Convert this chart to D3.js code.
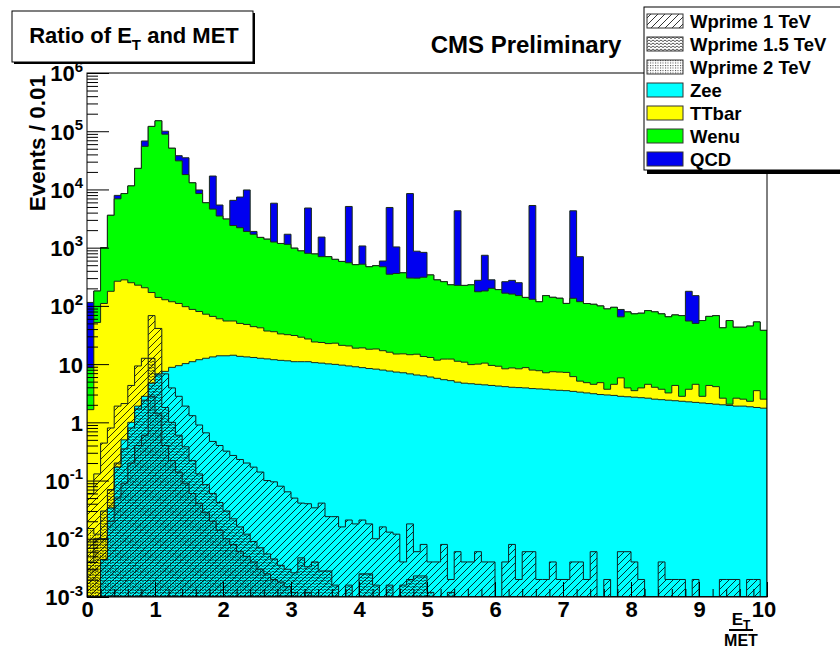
<!DOCTYPE html>
<html><head><meta charset="utf-8">
<script src="https://cdn.jsdelivr.net/npm/d3@7"></script>
<style>
html,body{margin:0;padding:0;background:#fff;}
svg{display:block;font-family:"Liberation Sans",Arial,Helvetica,sans-serif;font-weight:bold;}
</style></head><body>
<svg id="c" width="840" height="652"></svg>
<script>
// ---------------- data ----------------
const nBins = 100, xLo = 0, xHi = 10;
const zee = [0, 0, 0.0044, 0.034, 0.17, 0.5, 1.0, 1.9, 2.8, 4.7,
  6.8, 7.5, 8.8, 9.4, 10.2, 11, 11.9, 12.6, 13.3, 13.9,
  13.9, 14.2, 13.6, 13.3, 13.0, 12.6, 12.3, 11.9, 11.6, 11.4,
  11.0, 11.0, 11.0, 10.6, 10.4, 10.1, 9.9, 9.6, 9.3, 9.0,
  8.7, 8.4, 8.2, 7.9, 7.6, 7.3, 7.1, 6.8, 6.5, 6.3,
  6.0, 5.7, 5.4, 5.2, 4.9, 4.7, 4.6, 4.5, 4.4, 4.3,
  4.2, 4.1, 4.0, 3.95, 3.9, 3.8, 3.75, 3.7, 3.6, 3.55,
  3.5, 3.4, 3.3, 3.2, 3.1, 3.0, 2.95, 2.9, 2.8, 2.75,
  2.7, 2.65, 2.6, 2.5, 2.45, 2.4, 2.35, 2.3, 2.25, 2.2,
  2.15, 2.1, 2.05, 2.0, 1.95, 1.9, 1.9, 1.85, 1.8, 1.75];
const ttbar = [1.65, 52, 110, 178, 265, 279.5, 249, 225, 202, 165,
  133, 120, 109, 100.6, 86.8, 76, 68.1, 59.4, 52.7, 46.1,
  41.1, 40.8, 36.4, 34.7, 31, 29.4, 24.7, 24.1, 21.4, 20.6,
  20, 18, 16, 13.4, 13.1, 12.4, 13.0, 11.4, 11.2, 9.8,
  10.3, 9.6, 10.0, 9.1, 8.4, 7.6, 7.9, 7.7, 8.3, 7.2,
  7.0, 6.0, 6.8, 7.0, 6.3, 6.1, 5.2, 5.5, 6.0, 5.2,
  5.0, 4.2, 4.6, 4.35, 4.8, 4.1, 3.95, 3.4, 3.8, 3.75,
  3.7, 2.7, 1.8, 1.6, 1.4, 1.8, 0.75, 1.6, 3.0, 1.15,
  0.8, 1.25, 1.9, 1.5, 1.25, 0.8, 1.95, 0.5, 1.45, 2.3,
  0.65, 2.2, 2.05, 0.6, 0.1, 0.7, 0.6, 0.45, 1.7, 0.75];
const wenu = [7, 128, 890, 3420, 6640, 8220, 11250, 22770, 54800, 120800,
  150900, 88900, 50900, 30900, 17900, 12910, 8420, 5830, 4530, 3440,
  3045, 2345, 2150, 1852, 1656, 1458, 1363, 1214, 1147, 1108,
  949, 851, 773, 756, 677, 678, 607, 559, 530, 491,
  501, 452, 472, 453, 334, 345, 355, 286, 285, 297,
  327, 268, 248, 218, 214, 214, 220, 165, 170, 191,
  181, 157, 151, 142, 131, 122, 110, 143, 133, 128,
  103, 129, 113, 105, 102, 95, 85, 90, 59, 75,
  69.5, 71, 78.5, 75, 69.3, 61.8, 65.7, 65.2, 51.3, 45.5,
  53.2, 61.7, 63.9, 39.4, 54, 40.4, 40.5, 42.7, 49.5, 35.5];
const qcd = [106, 0, 0, 0, 1000, 0, 0, 0, 13000, 0,
  0, 11000, 0, 7000, 17000, 0, 1300, 0, 12400, 1900,
  0, 4100, 5200, 7900, 200, 0, 0, 4550, 0, 560,
  0, 0, 4000, 0, 820, 0, 0, 0, 4550, 0,
  550, 0, 0, 120, 4550, 670, 0, 8200, 570, 520,
  0, 0, 0, 0, 4075, 0, 0, 100, 560, 80,
  0, 95, 115, 100, 0, 5170, 0, 0, 0, 0,
  0, 4165, 582, 0, 0, 0, 0, 0, 22, 0,
  0, 0, 0, 0, 0, 0, 0, 0, 123, 100,
  0, 0, 0, 0, 0, 0, 0, 0, 0, 0];
const wp1 = [0.06, 0.13, 0.44, 0.8, 1.9, 2.1, 4.3, 9.3, 12.6, 68,
  41, 6.8, 3.9, 2.8, 1.9, 1.3, 0.9, 0.66, 0.47, 0.4,
  0.32, 0.27, 0.23, 0.2, 0.17, 0.14, 0.1, 0.095, 0.08, 0.064,
  0.05, 0.041, 0.04, 0.034, 0.041, 0.024, 0.024, 0.016, 0.021, 0.018,
  0.021, 0.018, 0.01, 0.016, 0.013, 0.012, 0.004, 0.018, 0.006, 0.008,
  0.004, 0.004, 0.008, 0.002, 0.006, 0.004, 0.004, 0.006, 0.004, 0.004,
  0, 0.004, 0.008, 0.002, 0.006, 0.006, 0.002, 0.002, 0.004, 0.002,
  0.002, 0.004, 0.004, 0.002, 0.006, 0, 0.002, 0, 0.006, 0.006,
  0.004, 0.002, 0, 0, 0.004, 0.002, 0.002, 0.002, 0, 0.002,
  0, 0, 0, 0.002, 0.002, 0.002, 0, 0.002, 0.002, 0];
const wp15 = [0.004, 0.01, 0.03, 0.07, 0.2, 0.35, 0.8, 1.7, 2.4, 12.6,
  6.5, 1.8, 1.0, 0.6, 0.38, 0.22, 0.13, 0.085, 0.06, 0.042,
  0.03, 0.022, 0.016, 0.012, 0.009, 0.007, 0.0055, 0.0045, 0.0035, 0.003,
  0.0026, 0.0047, 0.0033, 0.004, 0.0028, 0.0028, 0.0016, 0, 0.0016, 0,
  0.0025, 0.0025, 0.0016, 0, 0.0016, 0, 0.0016, 0.002, 0.0023, 0.0023,
  0.0012, 0, 0, 0.0012, 0, 0, 0, 0, 0, 0,
  0, 0, 0, 0, 0, 0, 0, 0, 0, 0,
  0, 0, 0, 0, 0, 0, 0, 0, 0, 0,
  0, 0, 0, 0, 0, 0, 0, 0, 0, 0,
  0, 0, 0, 0, 0, 0, 0, 0, 0, 0];
const wp2 = [0.015, 0.012, 0.01, 0.02, 0.05, 0.09, 0.2, 0.4, 0.6, 2.8,
  1.4, 0.4, 0.22, 0.14, 0.09, 0.06, 0.04, 0.028, 0.02, 0.014,
  0.01, 0.008, 0.006, 0.005, 0.004, 0.003, 0.0025, 0.002, 0.0018, 0.0015,
  0.0012, 0, 0.0012, 0, 0, 0, 0, 0, 0, 0,
  0, 0, 0, 0, 0, 0, 0, 0, 0, 0,
  0, 0, 0, 0, 0, 0, 0, 0, 0, 0,
  0, 0, 0, 0, 0, 0, 0, 0, 0, 0,
  0, 0, 0, 0, 0, 0, 0, 0, 0, 0,
  0, 0, 0, 0, 0, 0, 0, 0, 0, 0,
  0, 0, 0, 0, 0, 0, 0, 0, 0, 0];
const stackKeys = ["zee", "ttbar", "wenu", "qcd"];
const stackColors = {zee: "#00ffff", ttbar: "#ffff00", wenu: "#00ff00", qcd: "#0000f0"};
const xTickValues = [0, 1, 2, 3, 4, 5, 6, 7, 8, 9, 10];
const xTickLabels = ["0", "1", "2", "3", "4", "5", "6", "7", "8", "9", ""];
const yDecades = [1e-3, 1e-2, 1e-1, 1, 10, 1e2, 1e3, 1e4, 1e5, 1e6];
const yTickLabels = [["10","-3"],["10","-2"],["10","-1"],["1",""],["10",""],["10","2"],["10","3"],["10","4"],["10","5"],["10","6"]];
const legendLabels = ["Wprime 1 TeV", "Wprime 1.5 TeV", "Wprime 2 TeV", "Zee", "TTbar", "Wenu", "QCD"];

// ---------------- layout ----------------
const svg = d3.select("#c");
const L = 87, R = 767, T = 73, B = 597;
const x = d3.scaleLinear().domain([xLo, xHi]).range([L, R]);
const y = d3.scaleLog().domain([1e-3, 1e6]).range([B, T]).clamp(true);
const yv = v => y(Math.max(v, 1e-6));
const bw = (xHi - xLo) / nBins;

// patterns
const defs = svg.append("defs");
const p1 = defs.append("pattern").attr("id", "hatch1").attr("patternUnits", "userSpaceOnUse")
  .attr("width", 7).attr("height", 7);
p1.append("path").attr("d", "M-1,8 L8,-1 M-1,1 L1,-1 M6,8 L8,6")
  .attr("stroke", "#000").attr("stroke-width", 0.8).attr("fill", "none");
const p2 = defs.append("pattern").attr("id", "hatch2").attr("patternUnits", "userSpaceOnUse")
  .attr("width", 4).attr("height", 3);
p2.append("path").attr("d", "M0,1.8 q1,-1.6 2,0 t2,0")
  .attr("stroke", "#000").attr("stroke-width", 0.75).attr("fill", "none").attr("opacity", 0.9);
const p3 = defs.append("pattern").attr("id", "hatch3").attr("patternUnits", "userSpaceOnUse")
  .attr("width", 2.5).attr("height", 2.5);
p3.append("rect").attr("x", 0).attr("y", 0).attr("width", 1).attr("height", 1).attr("fill", "#000").attr("opacity", 0.75);
defs.append("clipPath").attr("id", "plotclip").append("rect")
  .attr("x", L).attr("y", T).attr("width", R - L).attr("height", B - T);

// step path helper
function stepPath(vals) {
  let d = `M${x(xLo)},${B}`;
  vals.forEach((v, i) => {
    const yy = yv(v);
    d += `L${x(xLo + i * bw)},${yy}L${x(xLo + (i + 1) * bw)},${yy}`;
  });
  d += `L${x(xHi)},${B}Z`;
  return d;
}

// stacked histograms
const rows = d3.range(nBins).map(i => ({zee: zee[i], ttbar: ttbar[i], wenu: wenu[i], qcd: qcd[i]}));
const stacked = d3.stack().keys(stackKeys)(rows);
const plot = svg.append("g").attr("clip-path", "url(#plotclip)");
stacked.slice().reverse().forEach(layer => {
  const tops = layer.map(d => d[1]);
  plot.append("path").attr("d", stepPath(tops))
    .attr("fill", stackColors[layer.key]).attr("stroke", "#1a2a1a").attr("stroke-width", 1);
});
// signal overlays
[[wp1, "hatch1"], [wp15, "hatch2"], [wp2, "hatch3"]].forEach(([vals, pid]) => {
  plot.append("path").attr("d", stepPath(vals))
    .attr("fill", `url(#${pid})`).attr("stroke", "#102020").attr("stroke-width", 1);
});

// frame
svg.append("rect").attr("x", L).attr("y", T).attr("width", R - L).attr("height", B - T)
  .attr("fill", "none").attr("stroke", "#000").attr("stroke-width", 1);

// x axis
const fs = 22;
const xMinor = svg.append("g").attr("transform", `translate(0,${B})`)
  .call(d3.axisBottom(x).tickValues(d3.range(0, 50).map(k => k * 0.2)).tickSize(-8).tickSizeOuter(0).tickFormat(""));
const xAx = svg.append("g").attr("transform", `translate(0,${B})`)
  .call(d3.axisBottom(x).tickValues(xTickValues).tickSize(-15).tickSizeOuter(0).tickPadding(4)
    .tickFormat((d, i) => xTickLabels[i]));
[xMinor, xAx].forEach(g => { g.select(".domain").remove(); g.selectAll("line").attr("stroke", "#000"); });
xAx.selectAll("text").attr("font-size", fs).attr("font-family", "Liberation Sans, Arial, sans-serif")
  .attr("font-weight", "bold").attr("fill", "#000");

// y axis
const yMinorVals = [];
[-3, -2, -1, 0, 1, 2, 3, 4, 5].forEach(e => [2,3,4,5,6,7,8,9].forEach(m => yMinorVals.push(m * Math.pow(10, e))));
const yMinor = svg.append("g").attr("transform", `translate(${L},0)`)
  .call(d3.axisLeft(y).tickValues(yMinorVals).tickSize(-11).tickSizeOuter(0).tickFormat(""));
const yAx = svg.append("g").attr("transform", `translate(${L},0)`)
  .call(d3.axisLeft(y).tickValues(yDecades).tickSize(-22).tickSizeOuter(0).tickPadding(4).tickFormat(""));
[yMinor, yAx].forEach(g => { g.select(".domain").remove(); g.selectAll("line").attr("stroke", "#000"); });
yAx.selectAll(".tick text").each(function(d, i) {
  const t = d3.select(this);
  t.attr("font-size", fs).attr("font-family", "Liberation Sans, Arial, sans-serif")
    .attr("font-weight", "bold").attr("fill", "#000").attr("dy", "0.36em");
  const [base, ex] = yTickLabels[i];
  t.append("tspan").text(base);
  if (ex) t.append("tspan").attr("font-size", 15).attr("dy", "-0.65em").text(ex);
});

// y title
svg.append("text").attr("transform", "translate(45,75) rotate(-90)").attr("text-anchor", "end")
  .attr("font-size", 22.5).text("Events / 0.01");

// x title fraction
svg.append("text").attr("x", 741).attr("y", 625).attr("text-anchor", "middle").attr("font-size", 17)
  .html('E<tspan font-size="12" dy="4">T</tspan>');
svg.append("line").attr("x1", 729).attr("x2", 753).attr("y1", 630).attr("y2", 630).attr("stroke", "#000").attr("stroke-width", 2);
svg.append("text").attr("x", 741).attr("y", 646).attr("text-anchor", "middle").attr("font-size", 16).text("MET");
svg.append("text").attr("x", 764).attr("y", 617).attr("text-anchor", "middle").attr("font-size", fs).text("10");

// title box
svg.append("rect").attr("x", 14).attr("y", 13).attr("width", 241).attr("height", 51).attr("fill", "#000");
svg.append("rect").attr("x", 12).attr("y", 11).attr("width", 241).attr("height", 51)
  .attr("fill", "#fff").attr("stroke", "#000").attr("stroke-width", 1);
svg.append("text").attr("x", 134).attr("y", 43).attr("text-anchor", "middle").attr("font-size", fs)
  .html('Ratio of E<tspan font-size="15" dy="7">T</tspan><tspan dy="-7"> and MET</tspan>');

svg.append("text").attr("x", 526).attr("y", 53).attr("text-anchor", "middle").attr("font-size", 24).text("CMS Preliminary");

// legend
const lg = svg.append("g");
lg.append("rect").attr("x", 647).attr("y", 11).attr("width", 200).attr("height", 163).attr("fill", "#000");
lg.append("rect").attr("x", 644).attr("y", 7).attr("width", 200).attr("height", 163)
  .attr("fill", "#fff").attr("stroke", "#000").attr("stroke-width", 1);
const swFill = ["url(#hatch1)", "url(#hatch2)", "url(#hatch3)", stackColors.zee, stackColors.ttbar, stackColors.wenu, stackColors.qcd];
legendLabels.forEach((lab, i) => {
  const cy = 21 + 23 * i;
  lg.append("rect").attr("x", 647).attr("y", cy - 7).attr("width", 36).attr("height", 14)
    .attr("fill", i < 3 ? "#fff" : swFill[i]).attr("stroke", "none");
  lg.append("rect").attr("x", 647).attr("y", cy - 7).attr("width", 36).attr("height", 14)
    .attr("fill", swFill[i]).attr("stroke", "#333").attr("stroke-width", 1);
  lg.append("text").attr("x", 690).attr("y", cy + 6.5).attr("font-size", 18.5).text(lab);
});
</script>
</body></html>
